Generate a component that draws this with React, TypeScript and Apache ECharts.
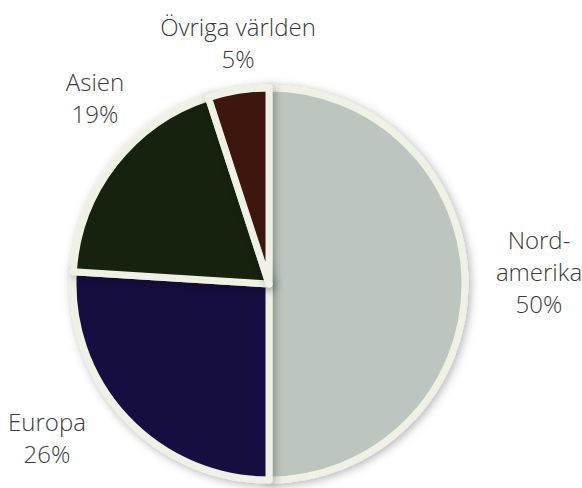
import React, { useEffect, useRef } from "react";
import * as echarts from "echarts";

const categories = ["Nord-\namerika", "Europa", "Asien", "Övriga världen"];
const values = [50, 26, 19, 5];
const colors = ["#bcc5be", "#130f40", "#12200f", "#3c1311"];
const labelPos = [
  [539, 271],
  [47, 437],
  [95, 97],
  [238, 42],
];

export default function App() {
  const ref = useRef<HTMLDivElement>(null);
  useEffect(() => {
    document.body.style.margin = "0";
    const chart = echarts.init(ref.current!, null, { renderer: "svg" });
    chart.setOption({
      animation: false,
      backgroundColor: "#ffffff",
      series: [
        {
          type: "pie",
          center: [269, 284],
          radius: 196,
          startAngle: 90,
          clockwise: true,
          data: categories.map((name, i) => ({
            name,
            value: values[i],
            itemStyle: { color: colors[i] },
          })),
          itemStyle: {
            borderColor: "#eef1e3",
            borderWidth: 7,
            shadowBlur: 10,
            shadowColor: "rgba(0,0,0,0.3)",
            shadowOffsetX: 2,
            shadowOffsetY: 2,
          },
          label: {
            show: true,
            position: "outside",
            formatter: (p: any) => `${p.name}\n${p.value}%`,
            fontFamily: "Open Sans",
            fontWeight: 300,
            fontSize: 24,
            lineHeight: 32,
            color: "#3a3a3a",
            align: "center",
            overflow: "none",
            width: 300,
          },
          labelLine: { show: false },
          labelLayout: (params: any) => ({
            x: labelPos[params.dataIndex][0],
            y: labelPos[params.dataIndex][1],
            align: "center",
            verticalAlign: "middle",
          }),
          emphasis: { disabled: true },
        },
      ],
    });
    return () => chart.dispose();
  }, []);
  return <div ref={ref} style={{ width: 582, height: 488 }} />;
}
